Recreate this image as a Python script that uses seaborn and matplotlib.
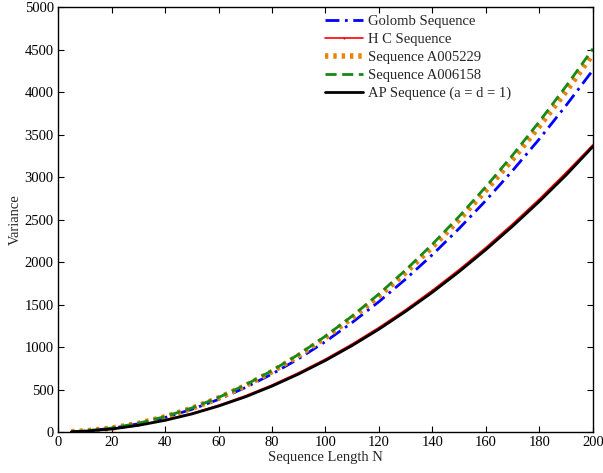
import numpy as np
import pandas as pd
import matplotlib
matplotlib.use("Agg")
import matplotlib.pyplot as plt
import seaborn as sns

N = [5, 10, 20, 30, 40, 50, 60, 70, 80, 90, 100, 110, 120, 130, 140, 150, 160, 170, 180, 190, 200]
golomb = [3, 11, 43, 96, 170, 266, 383, 522, 682, 863, 1065, 1289, 1534, 1800, 2087, 2396, 2726, 3078, 3450, 3845, 4260]
hc = [3, 10, 38, 82, 143, 219, 314, 425, 553, 698, 858, 1036, 1230, 1440, 1668, 1912, 2172, 2450, 2743, 3055, 3380]
a005229 = [3, 12, 45, 100, 178, 278, 400, 544, 711, 900, 1112, 1345, 1600, 1878, 2178, 2500, 2845, 3210, 3600, 4010, 4450]
a006158 = [3, 12, 46, 102, 181, 282, 406, 553, 722, 914, 1128, 1365, 1625, 1907, 2211, 2538, 2888, 3260, 3655, 4072, 4510]
ap = [2.5, 9, 35, 78, 137, 212, 305, 413, 540, 683, 842, 1018, 1210, 1420, 1645, 1888, 2147, 2423, 2715, 3025, 3360]

labels = ["Golomb Sequence", "H C Sequence", "Sequence A005229", "Sequence A006158", "AP Sequence (a = d = 1)"]
series = [golomb, hc, a005229, a006158, ap]

sns.set_theme(style="white")
plt.rcParams['font.family'] = ['Liberation Serif', 'DejaVu Serif']

df = pd.concat([pd.DataFrame({"N": N, "Variance": s, "Series": l}) for l, s in zip(labels, series)])

fig = plt.figure(figsize=(6.03, 4.73), dpi=100)
ax = fig.add_axes([0.0962, 0.0867, 0.8872, 0.8983])

styles = {
    "Golomb Sequence": dict(color="#0000ff", lw=2.0, ls=(0, (5, 2, 1, 2))),
    "H C Sequence": dict(color="#ff0000", lw=1.2, ls="-", marker=".", ms=3),
    "Sequence A005229": dict(color="#e8820c", lw=4.0, ls=(0, (0.6, 0.9))),
    "Sequence A006158": dict(color="#168a16", lw=2.0, ls=(0, (4, 2))),
    "AP Sequence (a = d = 1)": dict(color="#000000", lw=2.0, ls="-"),
}

for l in labels:
    st = styles[l]
    sub = df[df["Series"] == l]
    sns.lineplot(data=sub, x="N", y="Variance", ax=ax, label=l, color=st["color"],
                 linewidth=st["lw"], linestyle=st["ls"], marker=st.get("marker"),
                 markersize=st.get("ms", 0), markeredgewidth=0, errorbar=None)

ax.set_xlim(0, 200)
ax.set_ylim(0, 5000)
ax.set_xticks(range(0, 201, 20))
ax.set_yticks(range(0, 5001, 500))
ax.set_xlabel("Sequence Length N", fontsize=10.5, labelpad=1)
ax.set_ylabel("Variance", fontsize=10.5, labelpad=2)
ax.tick_params(direction="in", length=4, width=0.8, labelsize=10.5, top=True, right=True,
               bottom=True, left=True, colors="black", pad=3)
ax.tick_params(axis="x", labeltop=False)
ax.tick_params(axis="y", labelright=False)
for sp in ax.spines.values():
    sp.set_color("black")
    sp.set_linewidth(1.0)
ax.grid(False)

leg = ax.legend(loc="upper left", bbox_to_anchor=(0.485, 1.0), frameon=False, fontsize=10.5,
                handlelength=2.6, handletextpad=0.3, labelspacing=0.32, borderaxespad=0.15)

fig.savefig("out.png", dpi=100)
